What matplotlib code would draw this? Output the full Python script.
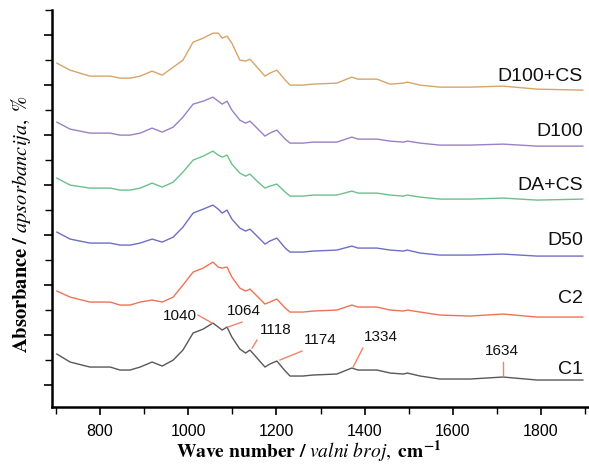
import matplotlib
matplotlib.use("Agg")
import matplotlib.pyplot as plt
from matplotlib.ticker import MultipleLocator

plt.rcParams['font.family'] = ['Liberation Sans', 'DejaVu Sans']
plt.rcParams['mathtext.fontset'] = 'stix'

# wavenumber grid (cm^-1)
wavenumber = [702, 732, 777, 823, 845, 868, 891, 918, 941, 966, 988, 1011, 1034,
              1056, 1068, 1077, 1088, 1099, 1117, 1130, 1140, 1156, 1174, 1185,
              1201, 1220, 1231, 1260, 1283, 1337, 1371, 1385, 1428, 1458, 1488,
              1497, 1526, 1571, 1639, 1714, 1791, 1895]

C1 = [0.31, 0.23, 0.18, 0.18, 0.15, 0.15, 0.18, 0.23, 0.19, 0.25, 0.35, 0.52, 0.56,
      0.62, 0.58, 0.55, 0.58, 0.48, 0.36, 0.32, 0.35, 0.27, 0.18, 0.21,
      0.24, 0.14, 0.09, 0.09, 0.10, 0.11, 0.17, 0.15, 0.15, 0.12, 0.11,
      0.12, 0.09, 0.06, 0.06, 0.08, 0.05, 0.05]
C2 = [0.94, 0.88, 0.83, 0.83, 0.80, 0.80, 0.83, 0.85, 0.83, 0.88, 1.00, 1.13, 1.17,
      1.23, 1.18, 1.17, 1.18, 1.08, 0.97, 0.94, 0.96, 0.89, 0.81, 0.83,
      0.86, 0.77, 0.73, 0.73, 0.74, 0.75, 0.80, 0.78, 0.78, 0.75, 0.74,
      0.75, 0.73, 0.70, 0.69, 0.71, 0.68, 0.68]
D50 = [1.53, 1.46, 1.42, 1.42, 1.40, 1.40, 1.42, 1.46, 1.43, 1.48, 1.58, 1.72, 1.76,
       1.80, 1.76, 1.72, 1.75, 1.66, 1.57, 1.54, 1.56, 1.49, 1.41, 1.44,
       1.47, 1.37, 1.33, 1.33, 1.34, 1.35, 1.39, 1.37, 1.37, 1.35, 1.34,
       1.35, 1.32, 1.30, 1.30, 1.31, 1.29, 1.29]
DA_CS = [2.07, 2.00, 1.97, 1.97, 1.95, 1.95, 1.97, 2.02, 1.98, 2.03, 2.13, 2.25, 2.29,
         2.34, 2.30, 2.28, 2.30, 2.21, 2.12, 2.09, 2.11, 2.04, 1.97, 1.99,
         2.01, 1.93, 1.89, 1.89, 1.90, 1.90, 1.94, 1.92, 1.92, 1.90, 1.89,
         1.90, 1.88, 1.86, 1.86, 1.87, 1.85, 1.86]
D100 = [2.63, 2.56, 2.52, 2.52, 2.50, 2.50, 2.52, 2.57, 2.53, 2.58, 2.68, 2.81, 2.84,
        2.88, 2.84, 2.81, 2.84, 2.75, 2.65, 2.62, 2.64, 2.57, 2.49, 2.52,
        2.55, 2.46, 2.42, 2.42, 2.43, 2.43, 2.48, 2.46, 2.46, 2.44, 2.43,
        2.44, 2.42, 2.40, 2.40, 2.41, 2.39, 2.39]
D100_CS = [3.22, 3.15, 3.09, 3.09, 3.07, 3.07, 3.09, 3.14, 3.10, 3.18, 3.25, 3.43, 3.47,
           3.52, 3.52, 3.47, 3.49, 3.42, 3.25, 3.24, 3.26, 3.18, 3.09, 3.12,
           3.15, 3.05, 3.00, 3.00, 3.01, 3.02, 3.08, 3.06, 3.06, 3.01, 3.02,
           3.03, 3.00, 2.98, 2.98, 2.99, 2.96, 2.95]

series_names = ['C1', 'C2', 'D50', 'DA+CS', 'D100', 'D100+CS']
series_values = [C1, C2, D50, DA_CS, D100, D100_CS]
series_colors = ['#585858', '#ee7356', '#6e6ec4', '#6cc08c', '#9a80c8', '#d8a468']
label_y = [0.16, 0.87, 1.45, 2.00, 2.54, 3.09]

peak_labels = ['1040', '1064', '1118', '1174', '1334', '1634']
peak_text_pos = [(981, 0.69), (1127, 0.74), (1199, 0.55), (1299, 0.45), (1437, 0.48), (1712, 0.34)]
peak_line_from = [(1022, 0.70), (1122, 0.63), (1156, 0.45), (1258, 0.34), (1396, 0.37), (1714, 0.23)]
peak_line_to = [(1054, 0.62), (1090, 0.58), (1145, 0.37), (1208, 0.25), (1374, 0.18), (1714, 0.10)]

fig = plt.figure(figsize=(5.89, 4.68), dpi=100)
ax = fig.add_axes([0.0883, 0.1303, 0.9117, 0.848])

for name, vals, col, ly in zip(series_names, series_values, series_colors, label_y):
    ax.plot(wavenumber, vals, color=col, lw=1.0)
    ax.text(1895, ly, name, ha='right', va='center', fontsize=14, color='#111111')

for lab, tp, lf, lt in zip(peak_labels, peak_text_pos, peak_line_from, peak_line_to):
    ax.plot([lf[0], lt[0]], [lf[1], lt[1]], color='#ef8468', lw=1.0)
    ax.text(tp[0], tp[1], lab, ha='center', va='center', fontsize=11, color='#111111')

ax.set_xlim(691, 1909)
ax.set_ylim(-0.22, 3.75)

for s in ['top', 'right']:
    ax.spines[s].set_visible(False)
for s in ['left', 'bottom']:
    ax.spines[s].set_linewidth(1.8)

ax.xaxis.set_major_locator(MultipleLocator(200))
ax.xaxis.set_minor_locator(MultipleLocator(100))
ax.yaxis.set_major_locator(MultipleLocator(0.5))
ax.yaxis.set_minor_locator(MultipleLocator(0.25))
ax.tick_params(axis='both', which='major', direction='out', length=6, width=1.2,
               labelsize=11.5, pad=6)
ax.tick_params(axis='both', which='minor', direction='out', length=5, width=1.0)
ax.tick_params(axis='y', which='both', labelleft=False)
ax.set_xticks([800, 1000, 1200, 1400, 1600, 1800])

ax.set_xlabel(r'$\mathbf{Wave\ number\ /}\ \mathit{valni\ broj,}\ \mathbf{cm^{-1}}$',
              fontsize=14)
ax.xaxis.set_label_coords(0.477, -0.08)
ax.set_ylabel(r'$\mathbf{Absorbance\ /}\ \mathit{apsorbancija,}\ \mathrm{\%}$',
              fontsize=14.8)
ax.yaxis.set_label_coords(-0.035, 0.46)

fig.savefig('out.png', dpi=100)
